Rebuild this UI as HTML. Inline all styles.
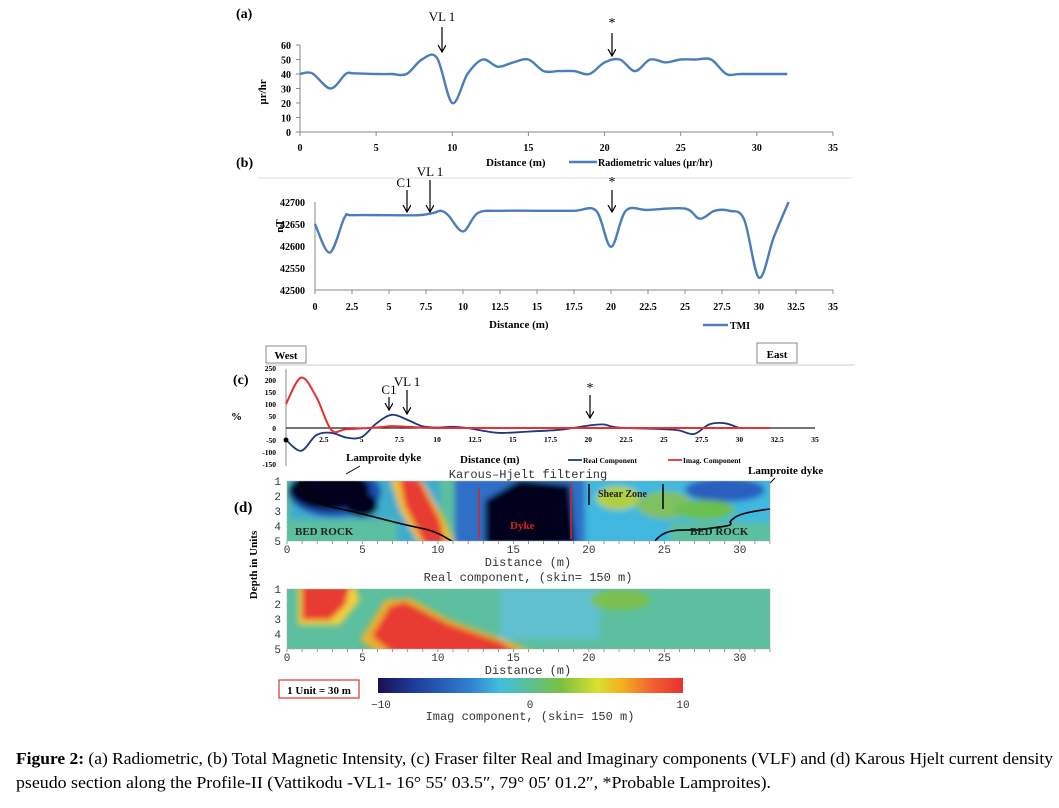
<!DOCTYPE html>
<html><head><meta charset="utf-8"><style>
html,body{margin:0;padding:0;background:#fff;}
svg text{font-family:"Liberation Serif",serif;}
svg text.m{font-family:"Liberation Mono",monospace;}
</style></head><body>
<svg id="s" width="1059" height="803" xmlns="http://www.w3.org/2000/svg">
<defs>
<filter id="bl" x="-10%" y="-30%" width="120%" height="160%"><feGaussianBlur stdDeviation="3"/></filter>
<clipPath id="c1"><rect x="287" y="481" width="483" height="60"/></clipPath>
<clipPath id="c2"><rect x="287" y="589" width="483" height="60"/></clipPath>
<linearGradient id="cb" x1="0" x2="1">
<stop offset="0" stop-color="#1a1050"/><stop offset="0.12" stop-color="#1f3c9a"/><stop offset="0.3" stop-color="#2f7fd0"/><stop offset="0.4" stop-color="#3fbfe0"/><stop offset="0.5" stop-color="#5cbf8f"/><stop offset="0.6" stop-color="#7cc040"/><stop offset="0.72" stop-color="#d8e030"/><stop offset="0.8" stop-color="#f5b020"/><stop offset="0.9" stop-color="#f06030"/><stop offset="1" stop-color="#e83030"/>
</linearGradient>
<marker id="ar" markerWidth="8" markerHeight="9" refX="7" refY="4" orient="auto" markerUnits="userSpaceOnUse"><path d="M0,0 L7,4 L0,8" fill="none" stroke="#000" stroke-width="1.2"/></marker>
</defs>
<g id="g"></g>
<g clip-path="url(#c1)">
<rect x="287" y="481" width="483" height="60" fill="#5cbf9f"/>
<g filter="url(#bl)">
<rect x="290" y="470" width="150" height="80" fill="#3aa8d8" opacity=".8"/>
<ellipse cx="335" cy="492" rx="46" ry="25" fill="#1e4fb0"/>
<ellipse cx="330" cy="490" rx="40" ry="20" fill="#05051a"/>
<ellipse cx="362" cy="505" rx="16" ry="12" fill="#05051a"/>
<polygon points="390,478 420,478 445,520 455,545 420,545 400,510" fill="#f0c030"/>
<polygon points="400,478 418,478 440,520 445,545 425,545 405,505" fill="#e83a30"/>
<rect x="455" y="478" width="130" height="70" fill="#2f70c8"/>
<polygon points="485,500 520,480 570,485 575,545 485,545" fill="#05051a"/>
<rect x="585" y="478" width="190" height="70" fill="#3fb8e0"/>
<ellipse cx="618" cy="498" rx="22" ry="12" fill="#b0d040"/>
<ellipse cx="665" cy="505" rx="28" ry="14" fill="#7fc060"/>
<ellipse cx="725" cy="490" rx="40" ry="12" fill="#2a5fc0"/>
<ellipse cx="705" cy="510" rx="30" ry="10" fill="#6cc050"/>
<rect x="670" y="522" width="105" height="25" fill="#5cbf9f"/>
<rect x="287" y="520" width="110" height="25" fill="#5cbf9f"/>
</g>
<path d="M300,481 C305,500 320,505 345,510 C370,515 390,522 420,528 C440,532 445,538 452,541" fill="none" stroke="#000" stroke-width="1.6"/>
<path d="M655,541 C665,528 680,530 700,530 C720,526 735,527 730,522 C735,515 745,512 770,509" fill="none" stroke="#000" stroke-width="1.6"/>
<line x1="479" y1="488" x2="479" y2="539" stroke="#e02020" stroke-width="1.5"/>
<line x1="571" y1="484" x2="571" y2="539" stroke="#e02020" stroke-width="1.5"/>
<line x1="589" y1="484" x2="589" y2="505" stroke="#000" stroke-width="1.5"/>
<line x1="663" y1="484" x2="663" y2="509" stroke="#000" stroke-width="1.5"/>
<text x="295" y="535" font-size="11" font-weight="bold" fill="#222">BED ROCK</text>
<text x="510" y="529" font-size="11" font-weight="bold" fill="#e02020">Dyke</text>
<text x="598" y="497" font-size="10" font-weight="bold" fill="#222">Shear Zone</text>
<text x="690" y="535" font-size="11" font-weight="bold" fill="#222">BED ROCK</text>
</g>
<g clip-path="url(#c2)">
<rect x="287" y="589" width="483" height="60" fill="#5cbf9f"/>
<g filter="url(#bl)">
<rect x="500" y="589" width="100" height="50" fill="#60c0d0"/>
<ellipse cx="620" cy="600" rx="30" ry="10" fill="#7cc050"/>
<polygon points="298,586 355,586 360,600 340,625 298,625" fill="#f0d040"/>
<polygon points="302,586 350,586 345,605 330,620 302,620" fill="#e83a30"/>
<polygon points="385,600 410,598 450,620 505,640 540,655 380,655 360,640" fill="#e8b030"/>
<polygon points="390,606 405,602 448,624 500,642 520,655 395,655 372,636" fill="#e83a30"/>
</g>
</g>
<rect x="287" y="481" width="483" height="60" fill="none" stroke="#aaa" stroke-width=".5"/>
<rect x="287" y="589" width="483" height="60" fill="none" stroke="#aaa" stroke-width=".5"/>
<rect x="378" y="678" width="305" height="15" fill="url(#cb)"/>
<rect x="279" y="680" width="80" height="18" fill="#fff" stroke="#e03030" stroke-width="1.2"/>
<text x="319" y="694" font-size="11" font-weight="bold" text-anchor="middle">1 Unit = 30 m</text>
</svg>
<script>
const S="http://www.w3.org/2000/svg",G=document.getElementById('g');
function el(t,a,txt){const e=document.createElementNS(S,t);for(const k in a)e.setAttribute(k,a[k]);if(txt!==undefined)e.textContent=txt;G.appendChild(e);return e;}
function tx(x,y,s,o){o=o||{};const a={x,y,'font-size':o.fs||11,'font-weight':o.b?'bold':'normal','text-anchor':o.a||'start',fill:o.f||'#000'};if(o.m)a['class']='m';if(o.tl){a.textLength=o.tl;a.lengthAdjust='spacingAndGlyphs';}return el('text',a,s);}
function smooth(p){let d='M'+p[0][0]+','+p[0][1];for(let i=0;i<p.length-1;i++){const a=p[i-1]||p[i],b=p[i],c=p[i+1],e=p[i+2]||c;d+=' C'+(b[0]+(c[0]-a[0])/6)+','+(b[1]+(c[1]-a[1])/6)+' '+(c[0]-(e[0]-b[0])/6)+','+(c[1]-(e[1]-b[1])/6)+' '+c[0]+','+c[1];}return d;}
function arrow(x,y1,y2){el('line',{x1:x,y1,x2:x,y2,stroke:'#000','stroke-width':1.2,'marker-end':'url(#ar)'});}
{const X=v=>300+v*533/35,Y=v=>132-v*87/60;
el('line',{x1:300,y1:45,x2:300,y2:132,stroke:'#888'});el('line',{x1:300,y1:132,x2:833,y2:132,stroke:'#888'});
for(let v=0;v<=60;v+=10){tx(291,Y(v)+4,v,{a:'end',b:1,fs:10});el('line',{x1:296,y1:Y(v),x2:300,y2:Y(v),stroke:'#888'});}
for(let v=0;v<=35;v+=5){tx(X(v),151,v,{a:'middle',b:1,fs:10});el('line',{x1:X(v),y1:132,x2:X(v),y2:136,stroke:'#888'});}
const d=[[0,40],[0.8,40.5],[2,30],[3,40],[3.5,40.5],[5,40],[6,40],[7,40],[8,50],[9,51],[10,20],[11,40],[12,50],[13,45],[14,48],[15,50],[16,42],[17,42],[18,42],[19,40],[20,48],[21,50],[22,42],[23,50],[24,48],[25,50],[26,50],[27,50],[28,40],[29,40],[32,40]];
el('path',{d:smooth(d.map(p=>[X(p[0]),Y(p[1])])),fill:'none',stroke:'#4a7ebb','stroke-width':2.4});
tx(236,18,'(a)',{b:1,fs:14});tx(442,21,'VL 1',{a:'middle',fs:13});arrow(442,27,52);tx(612,27,'*',{a:'middle',fs:14});arrow(612,33,56);
el('text',{x:0,y:0,'font-size':11,'font-weight':'bold',transform:'translate(266,92) rotate(-90)','text-anchor':'middle'},'µr/hr');
tx(486,166,'Distance (m)',{b:1,fs:11});el('line',{x1:569,y1:162,x2:597,y2:162,stroke:'#4a7ebb','stroke-width':2.4});tx(598,166,'Radiometric values (µr/hr)',{b:1,fs:10});
}
{const X=v=>315+v*518/35,Y=v=>290-(v-42500)*88/200;
el('line',{x1:258,y1:178,x2:852,y2:178,stroke:'#ddd'});
el('line',{x1:315,y1:202,x2:315,y2:290,stroke:'#888'});el('line',{x1:315,y1:290,x2:833,y2:290,stroke:'#888'});
for(let v=42500;v<=42700;v+=50){tx(305,Y(v)+4,v,{a:'end',b:1,fs:10});}
for(let v=0;v<=35;v+=2.5){tx(X(v),310,v,{a:'middle',b:1,fs:10});el('line',{x1:X(v),y1:290,x2:X(v),y2:294,stroke:'#888'});}
const d=[[0,42650],[1,42585],[2,42665],[2.5,42670],[5,42670],[7,42670],[8,42675],[8.5,42680],[9,42670],[10,42633],[11,42675],[12.5,42680],[15,42680],[17.5,42680],[19,42680],[20,42598],[21,42680],[22.5,42682],[25,42685],[26,42662],[27,42680],[28,42680],[29,42660],[30,42528],[31,42620],[32,42700]];
el('path',{d:smooth(d.map(p=>[X(p[0]),Y(p[1])])),fill:'none',stroke:'#4a7ebb','stroke-width':2.4});
tx(236,167,'(b)',{b:1,fs:14});tx(404,187,'C1',{a:'middle',fs:13});arrow(407,190,212);tx(430,176,'VL 1',{a:'middle',fs:13});arrow(430,180,212);
tx(612,186,'*',{a:'middle',fs:14});arrow(612,190,212);
el('text',{x:0,y:0,'font-size':11,'font-weight':'bold',transform:'translate(283,226) rotate(-90)','text-anchor':'middle'},'nT');
tx(489,328,'Distance (m)',{b:1,fs:11});el('line',{x1:703,y1:325,x2:728,y2:325,stroke:'#4a7ebb','stroke-width':2.4});tx(730,329,'TMI',{b:1,fs:10});
}
{const X=v=>286+v*529/35,Y=v=>428-v*12/50;
el('rect',{x:266,y:346,width:40,height:17,fill:'#fff',stroke:'#888'});tx(286,359,'West',{a:'middle',b:1,fs:11});
el('rect',{x:757,y:343,width:40,height:20,fill:'#fff',stroke:'#888'});tx(777,358,'East',{a:'middle',b:1,fs:11});
el('line',{x1:266,y1:365,x2:855,y2:365,stroke:'#ccc'});
el('line',{x1:286,y1:369,x2:286,y2:466,stroke:'#888'});el('line',{x1:286,y1:428,x2:815,y2:428,stroke:'#222','stroke-width':1.2});
for(let v=-150;v<=250;v+=50){tx(276,Y(v)+3,v,{a:'end',b:1,fs:7.5});}
for(let v=2.5;v<=35;v+=2.5){tx(X(v),442,v,{a:'middle',b:1,fs:7.5});}
const r=[[0,-50],[1,-95],[2,-30],[3,-20],[4,-40],[5,-38],[6,20],[7,55],[8,35],[9,8],[10,2],[11,5],[12,0],[14,-20],[16,-15],[18,-8],[19,0],[20,10],[21,15],[22,2],[25,-5],[26,-10],[27,-25],[28,15],[29,20],[30,0]];
const m=[[0,100],[1,210],[2,130],[3,-8],[4,-5],[6,2],[7,8],[8,5],[10,0],[15,0],[20,0],[25,0],[30,0],[32,0]];
el('path',{d:smooth(r.map(p=>[X(p[0]),Y(p[1])])),fill:'none',stroke:'#1f3a7a','stroke-width':1.8});
el('path',{d:smooth(m.map(p=>[X(p[0]),Y(p[1])])),fill:'none',stroke:'#e83030','stroke-width':2});
el('circle',{cx:286,cy:Y(-50),r:2.5,fill:'#000'});
tx(233,384,'(c)',{b:1,fs:14});tx(231,420,'%',{b:1,fs:11});
tx(389,394,'C1',{a:'middle',fs:13});arrow(389,397,410);tx(407,386,'VL 1',{a:'middle',fs:13});arrow(407,390,414);tx(590,392,'*',{a:'middle',fs:14});arrow(590,395,418);
tx(460,463,'Distance (m)',{b:1,fs:11});el('line',{x1:568,y1:460,x2:582,y2:460,stroke:'#1f3a7a','stroke-width':1.8});tx(583,463,'Real Component',{b:1,fs:7.5});
el('line',{x1:668,y1:460,x2:682,y2:460,stroke:'#e83030','stroke-width':1.8});tx(683,463,'Imag. Component',{b:1,fs:7.5});
tx(346,461,'Lamproite dyke',{b:1,fs:11});el('line',{x1:360,y1:466,x2:346,y2:474,stroke:'#000'});
tx(748,474,'Lamproite dyke',{b:1,fs:11});el('line',{x1:775,y1:478,x2:766,y2:487,stroke:'#000'});
}
{const X=v=>287+v*483/32;
tx(528,478,'Karous\u2013Hjelt filtering',{a:'middle',fs:12,m:1,f:'#333'});
tx(234,512,'(d)',{b:1,fs:15});
el('text',{x:0,y:0,'font-size':11,'font-weight':'bold',transform:'translate(257,565) rotate(-90)','text-anchor':'middle'},'Depth in Units');
for(const y0 of [481,589]){
 for(let k=1;k<=5;k++)tx(281,y0+(k-1)*15+4,k,{a:'end',fs:11,m:1,f:'#333'});
 for(let v=0;v<=30;v+=5)tx(X(v),y0+72,v,{a:'middle',fs:11,m:1,f:'#333'});
 for(let v=0;v<=32;v++)el('line',{x1:X(v),y1:y0+60,x2:X(v),y2:y0+63,stroke:'#555','stroke-width':.6});
}
tx(528,566,'Distance (m)',{a:'middle',fs:12,m:1,f:'#333'});
tx(528,581,'Real component,  (skin=  150 m)',{a:'middle',fs:12,m:1,f:'#333'});
tx(528,674,'Distance (m)',{a:'middle',fs:12,m:1,f:'#333'});
tx(381,708,'\u221210',{a:'middle',fs:11,m:1,f:'#333'});tx(530,708,'0',{a:'middle',fs:11,m:1,f:'#333'});tx(683,708,'10',{a:'middle',fs:11,m:1,f:'#333'});
tx(530,720,'Imag component,  (skin=  150 m)',{a:'middle',fs:12,m:1,f:'#333'});
}
{const e=el('text',{x:16,y:764,'font-size':16.5,textLength:1037,lengthAdjust:'spacingAndGlyphs'});e.innerHTML='<tspan font-weight="bold">Figure 2:</tspan> (a) Radiometric, (b) Total Magnetic Intensity, (c) Fraser filter Real and Imaginary components (VLF) and (d) Karous Hjelt current density';
tx(16,788,'pseudo section along the Profile-II (Vattikodu -VL1- 16° 55′ 03.5″, 79° 05′ 01.2″, *Probable Lamproites).',{fs:16.5,tl:755});}
</script>
</body></html>
